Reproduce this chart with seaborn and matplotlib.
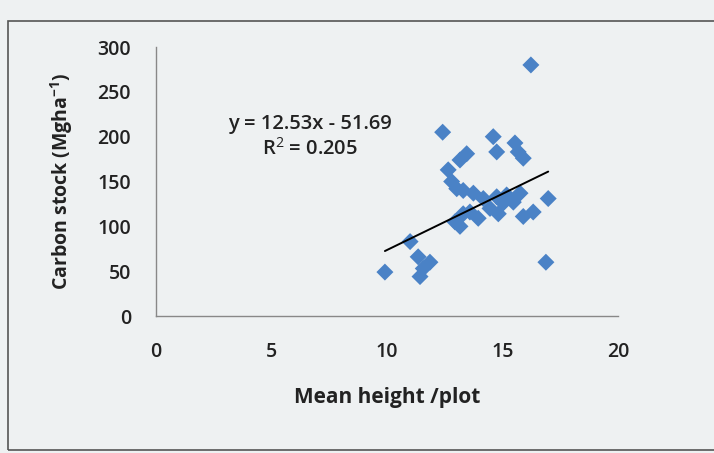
import numpy as np
import pandas as pd
import matplotlib
matplotlib.use('Agg')
import matplotlib.pyplot as plt
import seaborn as sns
from matplotlib.patches import Rectangle

# mean height per plot (m) and carbon stock (Mg/ha)
mean_height = [12.41, 14.60, 14.75, 15.54, 15.90, 15.68, 13.45, 13.16, 12.65, 12.80,
               13.02, 13.30, 13.74, 14.17, 14.75, 15.18, 15.76, 15.47, 15.03, 14.82,
               15.90, 16.33, 16.98, 14.46, 13.95, 13.59, 13.30, 12.94, 13.16, 11.00,
               11.35, 11.86, 11.57, 11.43, 9.91, 16.88, 16.23]
carbon_stock = [205, 200, 183, 193, 176, 183, 181, 174, 163, 150,
                142, 140, 137, 131, 133, 135, 137, 127, 126, 114,
                111, 116, 131, 120, 109, 116, 114, 105, 100, 83,
                66, 60, 53, 44, 49, 60, 280]

slope, intercept = 12.53, -51.69
r2 = 0.205
x_ticks = [0, 5, 10, 15, 20]
y_ticks = [0, 50, 100, 150, 200, 250, 300]

df = pd.DataFrame({'height': mean_height, 'carbon': carbon_stock})

sns.set_style('white')
plt.rcParams['font.family'] = ['Open Sans', 'DejaVu Sans']
plt.rcParams['mathtext.fontset'] = 'custom'
plt.rcParams['mathtext.rm'] = 'Open Sans'
plt.rcParams['mathtext.bf'] = 'Open Sans:bold'

bg = '#eef1f2'
txt = '#222222'
fig = plt.figure(figsize=(7.14, 4.53), dpi=100, facecolor=bg)
ax = fig.add_axes([0.2185, 0.3024, 0.647, 0.5938])
ax.set_facecolor(bg)

# chart frame like the spreadsheet chart area
fig.patches.append(Rectangle((8 / 714, 3 / 453), 1.0, 429 / 453, transform=fig.transFigure,
                             fill=False, edgecolor='#555555', lw=1.2))

sns.scatterplot(data=df, x='height', y='carbon', marker='D', s=75, color='#4a82c6',
                edgecolor='none', ax=ax, zorder=3)

xs = np.array([df.height.min(), df.height.max()])
ax.plot(xs, slope * xs + intercept, color='black', lw=1.4, zorder=4)

ax.text(6.67, 214, f'y = {slope}x - {abs(intercept)}', ha='center', va='center',
        fontsize=14.5, fontweight='semibold', color=txt)
ax.text(6.67, 186, f'R$^{{2}}$ = {r2}', ha='center', va='center', fontsize=14.5,
        fontweight='semibold', color=txt)

ax.set_xlim(0, 20)
ax.set_ylim(0, 300)
ax.set_xticks(x_ticks)
ax.set_yticks(y_ticks)
ax.tick_params(axis='both', labelsize=14, colors='#888888', labelcolor=txt,
               length=4, width=1, direction='out')
for lab in ax.get_xticklabels() + ax.get_yticklabels():
    lab.set_fontweight('semibold')
ax.tick_params(axis='x', pad=15)
ax.tick_params(axis='y', pad=14)
for side in ['top', 'right']:
    ax.spines[side].set_visible(False)
for side in ['left', 'bottom']:
    ax.spines[side].set_color('#888888')
    ax.spines[side].set_linewidth(1)

ax.set_xlabel('Mean height /plot', fontsize=15, fontweight='bold', color=txt, labelpad=18)
ax.set_ylabel(r'Carbon stock (Mgha$^{\mathbf{-1}}$)', fontsize=14, fontweight='bold',
              color=txt, labelpad=16)

fig.savefig('out.png', dpi=100, facecolor=bg)
